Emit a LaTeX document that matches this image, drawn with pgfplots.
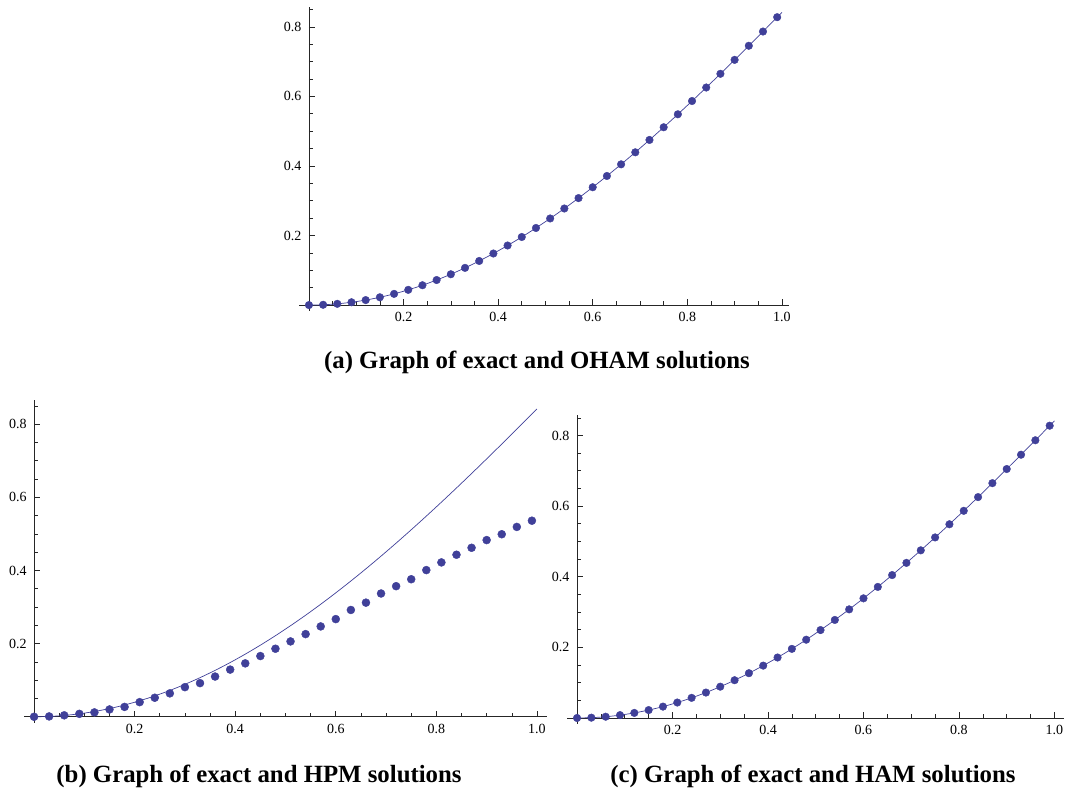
\documentclass[border=0pt]{standalone}
\usepackage{fontspec}
\setmainfont{Liberation Serif}
\usepackage{pgfplots}
\usepackage{pgfplotstable}
\pgfplotsset{compat=1.18}
\definecolor{mblue}{rgb}{0.25,0.25,0.6}
\pgfplotstableread{
x y
0.00 0.000000
0.03 0.000900
0.06 0.003598
0.09 0.008089
0.12 0.014365
0.15 0.022416
0.18 0.032225
0.21 0.043777
0.24 0.057049
0.27 0.072017
0.30 0.088656
0.33 0.106934
0.36 0.126819
0.39 0.148273
0.42 0.171259
0.45 0.195735
0.48 0.221654
0.51 0.248970
0.54 0.277633
0.57 0.307590
0.60 0.338785
0.63 0.371161
0.66 0.404657
0.69 0.439211
0.72 0.474757
0.75 0.511229
0.78 0.548558
0.81 0.586672
0.84 0.625500
0.87 0.664966
0.90 0.704994
0.93 0.745507
0.96 0.786424
0.99 0.827666
}\exactdots
\pgfplotstableread{
x y
0.00 0.000000
0.03 0.000900
0.06 0.003598
0.09 0.008089
0.12 0.014365
0.15 0.022416
0.18 0.032225
0.21 0.043777
0.24 0.057049
0.27 0.072017
0.30 0.088656
0.33 0.106934
0.36 0.126819
0.39 0.148273
0.42 0.171259
0.45 0.195735
0.48 0.221654
0.51 0.248970
0.54 0.277633
0.57 0.307590
0.60 0.338785
0.63 0.371161
0.66 0.404657
0.69 0.439211
0.72 0.474757
0.75 0.511229
0.78 0.548558
0.81 0.586672
0.84 0.625500
0.87 0.664966
0.90 0.704994
0.93 0.745507
0.96 0.786424
0.99 0.827666
1.00 0.841471
}\exactline
\pgfplotstableread{
x y
0.00 0.000
0.03 0.001
0.06 0.004
0.09 0.008
0.12 0.012
0.15 0.020
0.18 0.027
0.21 0.040
0.24 0.052
0.27 0.064
0.30 0.081
0.33 0.092
0.36 0.110
0.39 0.129
0.42 0.146
0.45 0.166
0.48 0.186
0.51 0.206
0.54 0.226
0.57 0.247
0.60 0.267
0.63 0.292
0.66 0.312
0.69 0.337
0.72 0.357
0.75 0.376
0.78 0.401
0.81 0.422
0.84 0.443
0.87 0.462
0.90 0.483
0.93 0.499
0.96 0.519
0.99 0.536
}\hpmdots
\pgfplotsset{
 mstyle/.style={
  scale only axis,
  axis lines=middle,
  axis line style={-, black!85, line width=0.6pt},
  tick align=inside,
  xtick={0.2,0.4,0.6,0.8,1.0},
  xticklabels={0.2,0.4,0.6,0.8,1.0},
  ytick={0.2,0.4,0.6,0.8},
  yticklabels={0.2,0.4,0.6,0.8},
  minor xtick={0.05,0.1,0.15,0.25,0.3,0.35,0.45,0.5,0.55,0.65,0.7,0.75,0.85,0.9,0.95},
  minor ytick={0.05,0.1,0.15,0.25,0.3,0.35,0.45,0.5,0.55,0.65,0.7,0.75,0.85},
  major tick length=6pt, minor tick length=4pt,
  tick style={black!85, line width=0.6pt},
  ticklabel style={font=\fontsize{14}{16}\selectfont, text=black},
  xticklabel style={yshift=-4pt},
  yticklabel style={xshift=-4pt},
  anchor=south west,
  clip=false,
 }
}
\begin{document}
\begin{tikzpicture}
\useasboundingbox (0,0) rectangle (1066pt,794pt);
% (a)
\begin{axis}[mstyle, at={(299pt,483pt)}, width=490pt, height=304pt,
  xmin=-0.021, xmax=1.015, ymin=-0.017, ymax=0.857]
\addplot[mblue, line width=0.7pt, smooth] table {\exactline};
\addplot[only marks, mark=*, mark size=3.8pt, mblue, mark options={draw=mblue, fill=mblue}] table {\exactdots};
\end{axis}
% (b)
\begin{axis}[mstyle, at={(24pt,71pt)}, width=523pt, height=323pt,
  xmin=-0.02, xmax=1.02, ymin=-0.017, ymax=0.866]
\addplot[mblue, line width=0.7pt, smooth] table {\exactline};
\addplot[only marks, mark=*, mark size=4pt, mblue, mark options={draw=mblue, fill=mblue}] table {\hpmdots};
\end{axis}
% (c)
\begin{axis}[mstyle, at={(567pt,70pt)}, width=497pt, height=309pt,
  xmin=-0.021, xmax=1.02, ymin=-0.017, ymax=0.858]
\addplot[mblue, line width=0.7pt, smooth] table {\exactline};
\addplot[only marks, mark=*, mark size=3.8pt, mblue, mark options={draw=mblue, fill=mblue}] table {\exactdots};
\end{axis}
\node[anchor=base, font=\fontsize{24.8}{28}\selectfont\bfseries] at (537pt,425pt) {(a) Graph of exact and OHAM solutions};
\node[anchor=base, font=\fontsize{24.8}{28}\selectfont\bfseries] at (259pt,11pt) {(b) Graph of exact and HPM solutions};
\node[anchor=base, font=\fontsize{24.8}{28}\selectfont\bfseries] at (813pt,11pt) {(c) Graph of exact and HAM solutions};
\end{tikzpicture}
\end{document}
